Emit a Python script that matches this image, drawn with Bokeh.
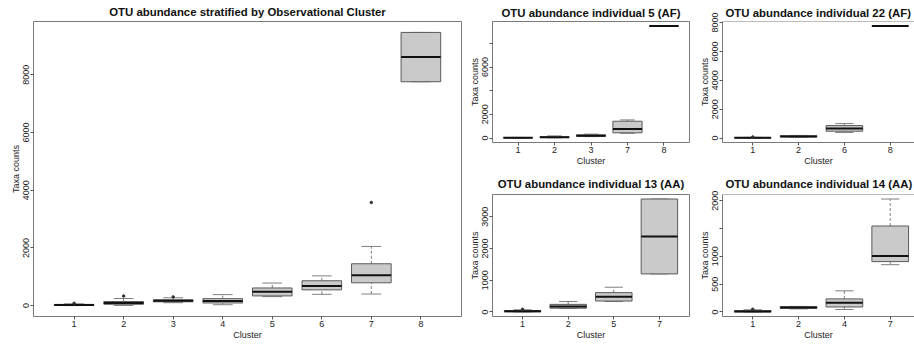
import numpy as np
from bokeh.plotting import figure
from bokeh.layouts import row, column
from bokeh.models import Range1d, FixedTicker, Span
from bokeh.embed import file_html
from bokeh.resources import INLINE

FONT = "Liberation Sans"

# ---------------- data (box statistics) ----------------
# Main panel: all individuals
main_clusters = ["1", "2", "3", "4", "5", "6", "7", "8"]
main_lo = [0, 5, 100, 30, 310, 390, 400, 7760]
main_q1 = [5, 45, 130, 90, 335, 545, 790, 7760]
main_med = [20, 90, 170, 160, 480, 680, 1050, 8615]
main_q3 = [40, 140, 200, 240, 610, 860, 1450, 9470]
main_hi = [60, 245, 270, 380, 780, 1030, 2050, 9470]
main_out_cluster = [1, 2, 3, 7]
main_out_value = [80, 330, 300, 3575]
main_yticks = [0, 2000, 4000, 6000, 8000]

# Individual 5 (AF)
ind5_clusters = ["1", "2", "3", "7", "8"]
ind5_lo = [0, 20, 120, 400, 9470]
ind5_q1 = [5, 40, 140, 440, 9470]
ind5_med = [15, 70, 190, 760, 9470]
ind5_q3 = [30, 110, 270, 1420, 9470]
ind5_hi = [50, 180, 330, 1530, 9470]
ind5_out_cluster = []
ind5_out_value = []
ind5_yticks = [0, 2000, 4000, 6000, 8000]
ind5_hidden = [4000, 8000]

# Individual 22 (AF)
ind22_clusters = ["1", "2", "6", "8"]
ind22_lo = [0, 60, 380, 7760]
ind22_q1 = [3, 80, 470, 7760]
ind22_med = [10, 110, 660, 7760]
ind22_q3 = [25, 160, 860, 7760]
ind22_hi = [45, 180, 1000, 7760]
ind22_out_cluster = [1]
ind22_out_value = [75]
ind22_yticks = [0, 2000, 4000, 6000, 8000]
ind22_hidden = []

# Individual 13 (AA)
ind13_clusters = ["1", "2", "5", "7"]
ind13_lo = [0, 110, 330, 1200]
ind13_q1 = [5, 120, 345, 1200]
ind13_med = [20, 175, 480, 2380]
ind13_q3 = [45, 240, 610, 3560]
ind13_hi = [70, 330, 780, 3560]
ind13_out_cluster = [1]
ind13_out_value = [85]
ind13_yticks = [0, 1000, 2000, 3000]
ind13_hidden = []

# Individual 14 (AA)
ind14_clusters = ["1", "2", "4", "7"]
ind14_lo = [0, 55, 45, 850]
ind14_q1 = [3, 65, 90, 905]
ind14_med = [10, 80, 165, 1005]
ind14_q3 = [25, 95, 235, 1545]
ind14_hi = [40, 100, 380, 2030]
ind14_out_cluster = [1]
ind14_out_value = [50]
ind14_yticks = [0, 500, 1000, 1500, 2000]
ind14_hidden = [1500]

TEXT = "#222222"
FRAME = "#7a7a7a"
BOXFILL = "#cacaca"
BOXLINE = "#5a5a5a"
WHISK = "#808080"


def panel(title, clusters, lo, q1, med, q3, hi, out_c, out_v, yticks, hidden,
          width, height, bl, br, bt, bb, clip_right=0.0, title_offset=None,
          title_standoff=0):
    n = len(clusters)
    x = np.arange(1, n + 1)
    allv = list(lo) + list(hi) + list(out_v)
    ymin, ymax = min(allv), max(allv)
    r = ymax - ymin
    y_start, y_end = ymin - 0.04 * r, ymax + 0.04 * r
    x_start = 0.5 - 0.04 * n
    x_end = n + 0.5 + 0.04 * n - clip_right
    p = figure(width=width, height=height, output_backend="svg", toolbar_location=None,
               x_range=Range1d(x_start, x_end), y_range=Range1d(y_start, y_end),
               min_border_left=bl, min_border_right=br, min_border_top=bt,
               min_border_bottom=bb, title=title)
    p.background_fill_color = "white"
    p.border_fill_color = "white"
    p.xgrid.visible = False
    p.ygrid.visible = False
    p.title.text_font = FONT
    p.title.text_font_size = "11.4px"
    p.title.text_font_style = "bold"
    p.title.text_color = "#111111"
    p.title.standoff = title_standoff
    if title_offset is None:
        p.title.align = "center"
    else:
        p.title.align = "left"
        p.title.offset = title_offset

    xb = p.below[0]
    yl = p.left[0]
    if clip_right > 0:
        # the reference is cropped on the right: no right border
        p.outline_line_color = None
        axis_line = FRAME
        p.add_layout(Span(location=y_end, dimension="width", line_color=FRAME, line_width=1))
    else:
        p.outline_line_color = FRAME
        p.outline_line_width = 1
        axis_line = None

    for ax in (xb, yl):
        ax.axis_line_color = axis_line
        ax.major_tick_line_color = "#555555"
        ax.major_tick_out = 3
        ax.major_tick_in = 0
        ax.minor_tick_line_color = None
        ax.major_label_text_font = FONT
        ax.major_label_text_font_size = "9px"
        ax.major_label_text_color = TEXT
        ax.axis_label_text_font = FONT
        ax.axis_label_text_font_size = "9px"
        ax.axis_label_text_font_style = "normal"
        ax.axis_label_text_color = TEXT
        ax.major_label_standoff = 1
        ax.axis_label_standoff = 0

    xb.ticker = FixedTicker(ticks=[int(v) for v in x])
    xb.major_label_overrides = {int(i): c for i, c in zip(x, clusters)}
    xb.axis_label = "Cluster"
    yl.ticker = FixedTicker(ticks=yticks)
    yl.major_label_overrides = {t: "" for t in hidden}
    yl.major_label_orientation = "vertical"
    yl.axis_label = "Taxa counts"

    half_cap = 0.2
    half_box = 0.4
    p.segment(x0=x, y0=q3, x1=x, y1=hi, line_color=WHISK, line_dash="3 2", line_width=1)
    p.segment(x0=x, y0=lo, x1=x, y1=q1, line_color=WHISK, line_dash="3 2", line_width=1)
    p.segment(x0=x - half_cap, y0=hi, x1=x + half_cap, y1=hi, line_color=WHISK, line_width=1)
    p.segment(x0=x - half_cap, y0=lo, x1=x + half_cap, y1=lo, line_color=WHISK, line_width=1)
    p.vbar(x=x, width=2 * half_box, bottom=q1, top=q3, fill_color=BOXFILL,
           line_color=BOXLINE, line_width=1)
    p.segment(x0=x - half_box, y0=med, x1=x + half_box, y1=med, line_color="#111111",
              line_width=2)
    if len(out_c):
        idx = [clusters.index(str(c)) + 1 for c in out_c]
        p.scatter(x=idx, y=out_v, size=2.5, marker="circle", fill_color="#333333",
                  line_color="#333333")
    return p


main = panel("OTU abundance stratified by Observational Cluster", main_clusters,
             main_lo, main_q1, main_med, main_q3, main_hi, main_out_cluster, main_out_value,
             main_yticks, [], 466, 345, 33, 5, 21, 29, title_standoff=7)

p5 = panel("OTU abundance individual 5 (AF)", ind5_clusters, ind5_lo, ind5_q1, ind5_med,
           ind5_q3, ind5_hi, ind5_out_cluster, ind5_out_value, ind5_yticks, ind5_hidden,
           228, 170, 26, 5, 21, 28, title_standoff=6)
p22 = panel("OTU abundance individual 22 (AF)", ind22_clusters, ind22_lo, ind22_q1, ind22_med,
            ind22_q3, ind22_hi, ind22_out_cluster, ind22_out_value, ind22_yticks, ind22_hidden,
            220, 170, 28, 0, 21, 28, clip_right=0.13, title_offset=3, title_standoff=6)
p13 = panel("OTU abundance individual 13 (AA)", ind13_clusters, ind13_lo, ind13_q1, ind13_med,
            ind13_q3, ind13_hi, ind13_out_cluster, ind13_out_value, ind13_yticks, ind13_hidden,
            228, 175, 26, 5, 24, 29, title_standoff=9)
p14 = panel("OTU abundance individual 14 (AA)", ind14_clusters, ind14_lo, ind14_q1, ind14_med,
            ind14_q3, ind14_hi, ind14_out_cluster, ind14_out_value, ind14_yticks, ind14_hidden,
            220, 175, 28, 0, 24, 29, clip_right=0.13, title_offset=3, title_standoff=9)

layout = row(main, column(row(p5, p22), row(p13, p14)))

with open("out.html", "w") as f:
    f.write(file_html(layout, INLINE))
